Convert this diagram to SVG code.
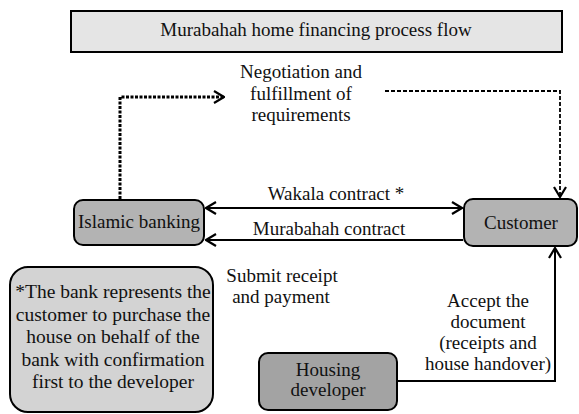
<svg xmlns="http://www.w3.org/2000/svg" width="579" height="414" viewBox="0 0 579 414">
<defs>
<style>
text{font-family:"Liberation Serif","Times New Roman",serif;font-size:19px;fill:#111;text-anchor:middle}
.node{stroke:#000;stroke-width:2}
.solid{fill:none;stroke:#000;stroke-width:2}
.dot{fill:none;stroke:#000;stroke-width:3;stroke-dasharray:3 1.5}
.dash{fill:none;stroke:#000;stroke-width:1.8;stroke-dasharray:4 2}
</style>
<marker id="ah" viewBox="0 0 12 14" refX="11" refY="7" markerWidth="12" markerHeight="14" markerUnits="userSpaceOnUse" orient="auto-start-reverse">
<path d="M1,1 L11,7 L1,13" fill="none" stroke="#000" stroke-width="2.2"/>
</marker>
</defs>
<rect width="579" height="414" fill="#fff"/>
<g id="title">
<rect class="node" x="71" y="11" width="491" height="41" fill="#e5e5e5"/>
<text x="316" y="36">Murabahah home financing process flow</text>
</g>
<g id="negotiation">
<text x="301" y="78">Negotiation and</text>
<text x="301" y="100">fulfillment of</text>
<text x="301" y="121">requirements</text>
</g>
<g id="islamic-banking">
<rect class="node" x="74" y="200" width="130" height="45" rx="9" fill="#b3b3b3"/>
<text x="139" y="228">Islamic banking</text>
</g>
<g id="customer">
<rect class="node" x="464" y="199" width="113" height="47" rx="9" fill="#b3b3b3"/>
<text x="521" y="229">Customer</text>
</g>
<g id="footnote">
<rect class="node" x="10" y="267" width="203" height="145" rx="18" fill="#d3d3d3"/>
<text x="113" y="298" style="font-size:19.5px">*The bank represents the</text>
<text x="113" y="320.5" style="font-size:19.5px">customer to purchase the</text>
<text x="113" y="343" style="font-size:19.5px">house on behalf of the</text>
<text x="113" y="365.5" style="font-size:19.5px">bank with confirmation</text>
<text x="113" y="388" style="font-size:19.5px">first to the developer</text>
</g>
<g id="housing-developer">
<rect class="node" x="259" y="353" width="138" height="57" rx="9" fill="#a3a3a3"/>
<text x="328" y="376">Housing</text>
<text x="328" y="396">developer</text>
</g>
<g id="connectors">
<path class="dot" d="M120,199 V97 H224" marker-end="url(#ah)"/>
<path class="dash" d="M385,91 H560 V197" marker-end="url(#ah)"/>
<path class="solid" d="M206,208 H462" marker-start="url(#ah)" marker-end="url(#ah)"/>
<path class="solid" d="M463,240 H206" marker-end="url(#ah)"/>
<path class="solid" d="M397,381 H555 V248" marker-end="url(#ah)"/>
</g>
<g id="labels">
<text x="336" y="200">Wakala contract *</text>
<text x="329" y="235">Murabahah contract</text>
<text x="282" y="282">Submit receipt</text>
<text x="281" y="303">and payment</text>
<text x="488" y="307">Accept the</text>
<text x="488" y="328">document</text>
<text x="488" y="349">(receipts and</text>
<text x="488" y="370">house handover)</text>
</g>
</svg>
